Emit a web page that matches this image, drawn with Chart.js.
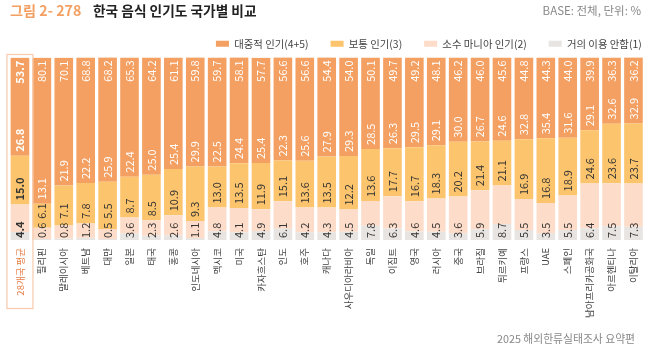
<!DOCTYPE html>
<html>
<head>
<meta charset="utf-8">
<script src="https://cdn.jsdelivr.net/npm/chart.js@4.4.0/dist/chart.umd.min.js"></script>
<style>
  html, body { margin: 0; padding: 0; background: #fff; }
  #wrap { position: relative; width: 653px; height: 350px; font-family: "Noto Sans CJK KR", "Noto Sans", sans-serif; }
  #chart { position: absolute; left: 0; top: 0; }
  .txt { position: absolute; white-space: nowrap; }
  #fig { left: 10px; top: 0px; font-size: 14.2px; font-weight: bold; color: #F4A062; }
  #ttl { left: 93px; top: 0px; font-size: 13.7px; font-weight: bold; color: #222; }
  #base { right: 12px; top: 2px; font-size: 11.5px; color: #888; }
  #foot { right: 18px; top: 330px; font-size: 10.8px; color: #888; }
</style>
</head>
<body>
<div id="wrap">
  <canvas id="chart" width="653" height="350"></canvas>
  <div class="txt" id="fig">그림 2- 278</div>
  <div class="txt" id="ttl">한국 음식 인기도 국가별 비교</div>
  <div class="txt" id="base">BASE: 전체, 단위: %</div>
  <div class="txt" id="foot">2025 해외한류실태조사 요약편</div>
</div>
<script>
// categories
const countries = ['28개국 평균', '필리핀', '말레이시아', '베트남', '대만', '일본', '태국', '홍콩', '인도네시아',
  '멕시코', '미국', '카자흐스탄', '인도', '호주', '캐나다', '사우디아라비아', '독일', '이집트', '영국',
  '러시아', '중국', '브라질', '튀르키예', '프랑스', 'UAE', '스페인', '남아프리카공화국', '아르헨티나', '이탈리아'];

// series values (%)
const popular = [53.7, 80.1, 70.1, 68.8, 68.2, 65.3, 64.2, 61.1, 59.8, 59.7, 58.1, 57.7, 56.6, 56.6, 54.4, 54.0,
  50.1, 49.7, 49.2, 48.1, 46.2, 46.0, 45.6, 44.8, 44.3, 44.0, 39.9, 36.3, 36.2];
const normal = [26.8, 13.1, 21.9, 22.2, 25.9, 22.4, 25.0, 25.4, 29.9, 22.5, 24.4, 25.4, 22.3, 25.6, 27.9, 29.3,
  28.5, 26.3, 29.5, 29.1, 30.0, 26.7, 24.6, 32.8, 35.4, 31.6, 29.1, 32.6, 32.9];
const mania = [15.0, 6.1, 7.1, 7.8, 5.5, 8.7, 8.5, 10.9, 9.3, 13.0, 13.5, 11.9, 15.1, 13.6, 13.5, 12.2,
  13.6, 17.7, 16.7, 18.3, 20.2, 21.4, 21.1, 16.9, 16.8, 18.9, 24.6, 23.6, 23.7];
const rarely = [4.4, 0.6, 0.8, 1.2, 0.5, 3.6, 2.3, 2.6, 1.1, 4.8, 4.1, 4.9, 6.1, 4.2, 4.3, 4.5,
  7.8, 6.3, 4.6, 4.5, 3.6, 5.9, 8.7, 5.5, 3.5, 5.5, 6.4, 7.5, 7.3];

const seriesNames = ['거의 이용 안함(1)', '소수 마니아 인기(2)', '보통 인기(3)', '대중적 인기(4+5)'];
const seriesColors = ['#E7E4E2', '#FDDCC9', '#FCC46C', '#F4A062'];
const labelColors = ['#333', '#333', '#fff', '#fff'];

const FONT = '"Noto Sans CJK KR", "Noto Sans", sans-serif';

// legend: shorter box so bars sit right under it, drawn a bit further right
const legendFit = {
  id: 'legendFit',
  beforeInit(chart) {
    const lg = chart.legend;
    const fit = lg.fit;
    lg.fit = function () {
      fit.call(this);
      this.height = 41;
    };
    const draw = lg.draw;
    lg.draw = function () {
      const l = this.left, r = this.right;
      this.left += 18.7; this.right += 18.7;
      draw.call(this);
      this.left = l; this.right = r;
    };
  }
};

// value labels, rotated, stacked upward so they don't collide
const valueLabels = {
  id: 'valueLabels',
  afterDatasetsDraw(chart) {
    const ctx = chart.ctx;
    const metas = [0, 1, 2, 3].map(k => chart.getDatasetMeta(k));
    ctx.save();
    ctx.textBaseline = 'middle';
    countries.forEach((c, i) => {
      ctx.font = (i === 0 ? 'bold ' : '') + '11px ' + FONT;
      const bottom = metas[0].data[i].base;
      let limit = bottom - 2;
      for (let k = 0; k < 4; k++) {
        const el = metas[k].data[i];
        const txt = chart.data.datasets[k].data[i].toFixed(1);
        const w = ctx.measureText(txt).width;
        ctx.save();
        ctx.fillStyle = labelColors[k];
        if (k === 3) {
          ctx.translate(el.x, el.y + 3);
          ctx.rotate(-Math.PI / 2);
          ctx.textAlign = 'right';
          ctx.fillText(txt, 0, 0);
        } else {
          const start = k === 0 ? limit : Math.min(el.y - 4, limit);
          ctx.translate(el.x, start);
          ctx.rotate(-Math.PI / 2);
          ctx.textAlign = 'left';
          ctx.fillText(txt, 0, 0);
          limit = start - w - 4;
        }
        ctx.restore();
      }
    });
    ctx.restore();
  },
  afterDraw(chart) {
    // highlight box round the average column
    const ctx = chart.ctx;
    const x = chart.scales.x.getPixelForValue(0);
    ctx.save();
    ctx.strokeStyle = '#F8C9AA';
    ctx.lineWidth = 1.2;
    ctx.strokeRect(x - 13, 54.5, 26, 254);
    ctx.restore();
  }
};

const datasets = [rarely, mania, normal, popular].map((d, k) => ({
  label: seriesNames[k],
  data: d,
  backgroundColor: seriesColors[k],
  borderWidth: 0,
  barPercentage: 0.85,
  categoryPercentage: 1.0
}));

new Chart(document.getElementById('chart'), {
  type: 'bar',
  data: { labels: countries, datasets: datasets },
  options: {
    responsive: false,
    animation: false,
    layout: { padding: { top: 16.5, left: 9, right: 8, bottom: 0 } },
    plugins: {
      legend: {
        position: 'top',
        align: 'end',
        reverse: true,
        labels: {
          boxWidth: 13,
          boxHeight: 6,
          padding: 22,
          color: '#444',
          font: { size: 10.4, family: FONT }
        }
      },
      tooltip: { enabled: false }
    },
    scales: {
      x: {
        stacked: true,
        grid: { display: false, drawTicks: false },
        border: { display: false },
        ticks: {
          autoSkip: false,
          maxRotation: 90,
          minRotation: 90,
          padding: 8,
          color: c => c.index === 0 ? '#E8804A' : '#444',
          font: { size: 9.5, family: FONT }
        },
        afterFit: s => { s.height = 110; }
      },
      y: {
        stacked: true,
        display: false,
        min: 0,
        max: 100
      }
    }
  },
  plugins: [legendFit, valueLabels]
});
</script>
</body>
</html>
